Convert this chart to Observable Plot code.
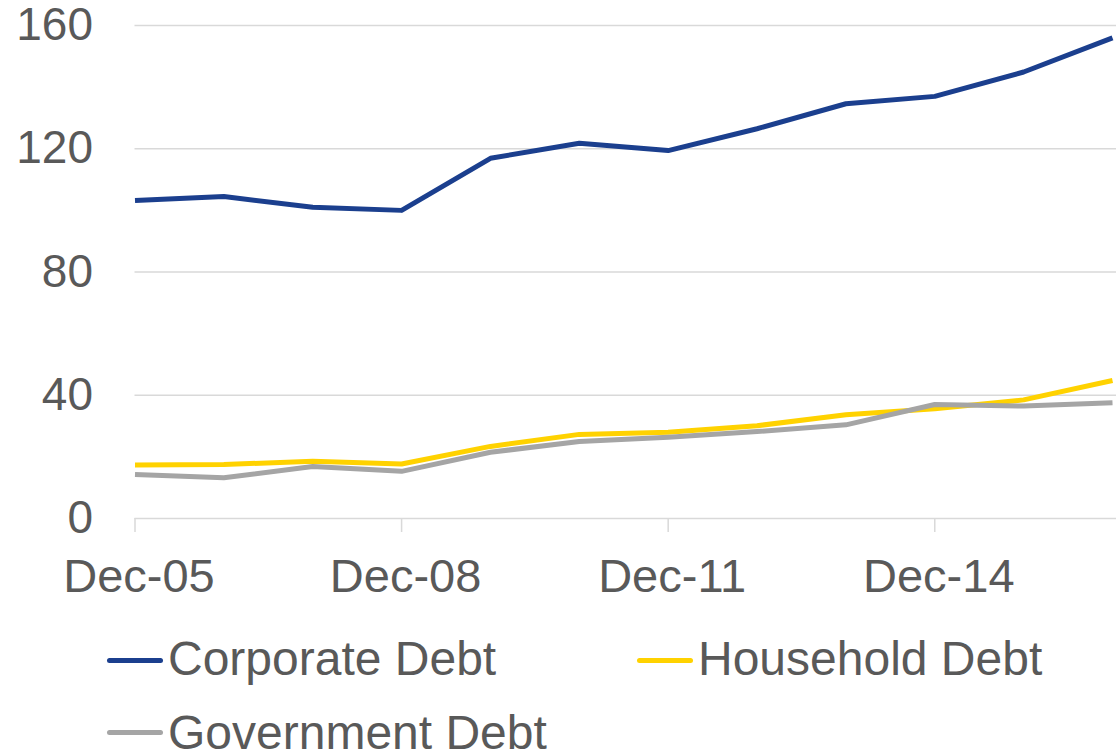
<!DOCTYPE html>
<html>
<head>
<meta charset="utf-8">
<script src="https://cdn.jsdelivr.net/npm/d3@7"></script>
<script src="https://cdn.jsdelivr.net/npm/@observablehq/plot@0.6"></script>
<style>
  html, body { margin: 0; padding: 0; background: #fff; }
  #wrap { width: 1116px; font-family: "Liberation Sans", Arial, sans-serif; color: #595959; }
  #legend { position: relative; width: 1116px; height: 138px; overflow: hidden; }
  .sw { position: absolute; width: 56px; height: 5px; border-radius: 2.5px; }
  .lt { position: absolute; font-size: 48px; line-height: 48px; white-space: nowrap; color: #595959; }
</style>
</head>
<body>
<div id="wrap">
  <div id="chart"></div>
  <div id="legend"></div>
</div>
<script>
const dates = ["Dec-05","Dec-06","Dec-07","Dec-08","Dec-09","Dec-10","Dec-11","Dec-12","Dec-13","Dec-14","Dec-15","Dec-16"];
const corporate = [103.2, 104.5, 101.0, 100.0, 116.9, 121.8, 119.4, 126.5, 134.6, 137.0, 144.9, 156.0];
const household = [17.4, 17.5, 18.6, 17.7, 23.4, 27.3, 28.0, 30.1, 33.7, 35.6, 38.5, 44.8];
const government = [14.3, 13.2, 16.9, 15.3, 21.5, 25.0, 26.4, 28.2, 30.4, 37.0, 36.5, 37.6];
const seriesNames = ["Corporate Debt", "Household Debt", "Government Debt"];
const seriesColors = ["#1B3F8E", "#FFD200", "#A5A5A5"];
const yTicks = [0, 40, 80, 120, 160];
const xTicks = ["Dec-05", "Dec-08", "Dec-11", "Dec-14"];

const allSeries = [corporate, household, government];
const rows = [];
allSeries.forEach((vals, s) => vals.forEach((v, i) => rows.push({date: dates[i], value: v, series: seriesNames[s]})));

const chart = Plot.plot({
  width: 1116,
  height: 615,
  marginLeft: 134.5,
  marginRight: 4,
  marginTop: 25,
  marginBottom: 97,
  style: {fontFamily: "'Liberation Sans', Arial, sans-serif", fontSize: "46px", color: "#595959", background: "#fff", overflow: "visible"},
  x: {type: "point", domain: dates, padding: 0, round: false},
  y: {domain: [0, 160]},
  color: {domain: seriesNames, range: seriesColors},
  marks: [
    Plot.ruleY(yTicks, {stroke: "#D9D9D9", strokeWidth: 1.5, insetRight: -4}),
    Plot.axisY({ticks: yTicks, tickSize: 0, tickPadding: 42, fontSize: 46, fill: "#595959", label: null}),
    Plot.axisX({ticks: xTicks, tickSize: 14, stroke: "#D9D9D9", strokeWidth: 1.5, label: null, text: null}),
    Plot.axisX({ticks: xTicks, tickSize: 0, tickPadding: 40, dx: 4, fontSize: 47, fill: "#595959", label: null}),
    Plot.lineY(rows, {x: "date", y: "value", z: "series", stroke: "series", strokeWidth: 5, strokeLinejoin: "round", strokeLinecap: "butt"})
  ]
});
document.getElementById("chart").appendChild(chart);

const legendItems = [
  {name: seriesNames[0], color: seriesColors[0], sx: 107, tx: 168, ty: 20.4, sy: 43.2},
  {name: seriesNames[1], color: seriesColors[1], sx: 637, tx: 698, ty: 20.4, sy: 43.2},
  {name: seriesNames[2], color: seriesColors[2], sx: 107, tx: 168, ty: 93.8, sy: 115.2}
];
const legend = document.getElementById("legend");
legendItems.forEach(it => {
  const sw = document.createElement("div");
  sw.className = "sw";
  sw.style.left = it.sx + "px";
  sw.style.top = it.sy + "px";
  sw.style.background = it.color;
  legend.appendChild(sw);
  const t = document.createElement("div");
  t.className = "lt";
  t.style.left = it.tx + "px";
  t.style.top = it.ty + "px";
  t.textContent = it.name;
  legend.appendChild(t);
});
</script>
</body>
</html>
